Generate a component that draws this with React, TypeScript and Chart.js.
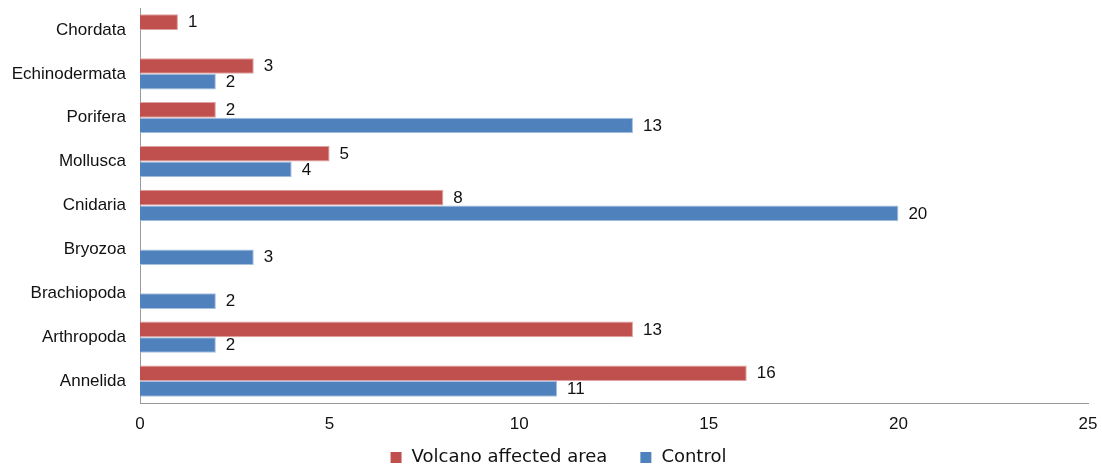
import React, { useEffect, useRef } from "react";
import { Chart, registerables } from "chart.js";

Chart.register(...registerables);

const categories = ["Chordata", "Echinodermata", "Porifera", "Mollusca", "Cnidaria", "Bryozoa", "Brachiopoda", "Arthropoda", "Annelida"];
const volcanoValues: (number | null)[] = [1, 3, 2, 5, 8, null, null, 13, 16];
const controlValues: (number | null)[] = [null, 2, 13, 4, 20, 3, 2, 2, 11];
const xTicks = [0, 5, 10, 15, 20, 25];

const FONT = "'Liberation Sans', Arial, sans-serif";
const LEGEND_FONT = "18px 'DejaVu Sans', sans-serif";
const TEXT = "#111";

const valueLabels = {
  id: "valueLabels",
  afterDatasetsDraw(chart: any) {
    const ctx = chart.ctx;
    ctx.save();
    ctx.font = `17px ${FONT}`;
    ctx.fillStyle = TEXT;
    ctx.textAlign = "left";
    ctx.textBaseline = "middle";
    chart.data.datasets.forEach((ds: any, di: number) => {
      const meta = chart.getDatasetMeta(di);
      meta.data.forEach((el: any, i: number) => {
        const v = ds.data[i];
        if (v === null || v === undefined) return;
        ctx.fillText(String(v), el.x + 10, el.y + 0.5);
      });
    });
    ctx.restore();
  },
};

// Bottom legend drawn from the datasets (labels and colours)
const bottomLegend = {
  id: "bottomLegend",
  afterDraw(chart: any) {
    const ctx = chart.ctx;
    const box = 11, gapText = 10, gapItem = 33;
    const cy = 457;
    ctx.save();
    ctx.font = LEGEND_FONT;
    ctx.textBaseline = "middle";
    ctx.textAlign = "left";
    const items = chart.data.datasets.map((ds: any) => ({ label: ds.label, color: ds.backgroundColor, w: ctx.measureText(ds.label).width }));
    const total = items.reduce((s: number, it: any) => s + box + gapText + it.w, 0) + gapItem * (items.length - 1);
    let x = 558.5 - total / 2;
    items.forEach((it: any) => {
      ctx.fillStyle = it.color;
      ctx.fillRect(x, cy - box / 2 + 0.5, box, box);
      x += box + gapText;
      ctx.fillStyle = TEXT;
      ctx.fillText(it.label, x, cy);
      x += it.w + gapItem;
    });
    ctx.restore();
  },
};

const noPad = (scale: any) => {
  scale.paddingTop = 0;
  scale.paddingBottom = 0;
  scale.paddingLeft = 0;
  scale.paddingRight = 0;
};

export default function App() {
  const ref = useRef<HTMLCanvasElement | null>(null);
  useEffect(() => {
    if (!ref.current) return;
    const chart = new Chart(ref.current, {
      type: "bar",
      data: {
        labels: categories,
        datasets: [
          { label: "Volcano affected area", data: volcanoValues, backgroundColor: "#C0504D", borderColor: "#DFA3A1", borderWidth: 1, categoryPercentage: 0.713, barPercentage: 1.0 },
          { label: "Control", data: controlValues, backgroundColor: "#4F81BD", borderColor: "#A7C0E0", borderWidth: 1, categoryPercentage: 0.713, barPercentage: 1.0 },
        ],
      },
      options: {
        indexAxis: "y",
        animation: false,
        responsive: false,
        maintainAspectRatio: false,
        layout: { autoPadding: false, padding: { top: 8, right: 14, bottom: 0, left: 0 } },
        plugins: {
          legend: { display: false },
          tooltip: { enabled: false },
        },
        scales: {
          x: {
            min: 0,
            max: 25,
            afterBuildTicks: (scale: any) => { scale.ticks = xTicks.map((v) => ({ value: v })); },
            afterFit: (scale: any) => { scale.height = 65; noPad(scale); },
            grid: { display: false, drawTicks: false },
            border: { display: true, color: "#9a9a9a" },
            ticks: { padding: 11, color: TEXT, font: { family: FONT, size: 17 }, autoSkip: false, maxRotation: 0 },
          },
          y: {
            afterFit: (scale: any) => { scale.width = 140; noPad(scale); },
            grid: { display: false, drawTicks: false },
            border: { display: true, color: "#9a9a9a" },
            ticks: { padding: 14, color: TEXT, font: { family: FONT, size: 17 }, autoSkip: false },
          },
        },
      },
      plugins: [valueLabels, bottomLegend],
    } as any);
    return () => chart.destroy();
  }, []);
  return (
    <div style={{ position: "fixed", left: 0, top: 0, width: 1102, height: 468, background: "#fff" }}>
      <canvas ref={ref} width={1102} height={468} style={{ display: "block" }} />
    </div>
  );
}
